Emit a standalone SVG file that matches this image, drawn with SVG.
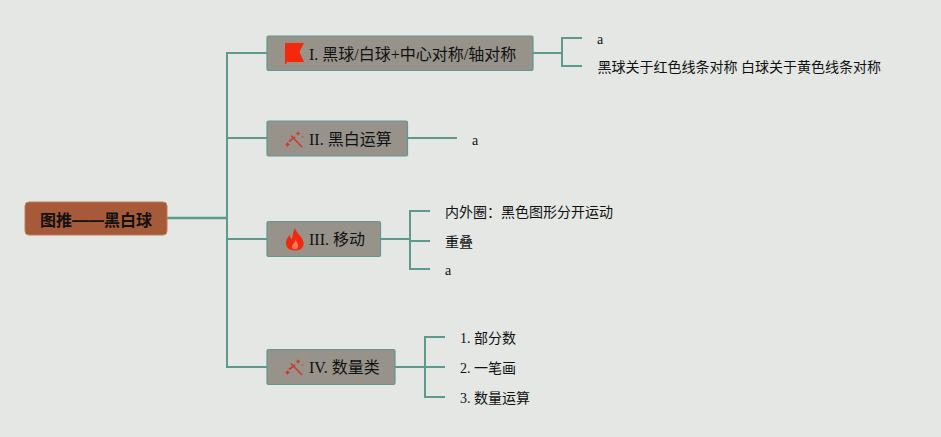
<svg xmlns="http://www.w3.org/2000/svg" width="941" height="437" viewBox="0 0 941 437">
<style>
text{font-family:"Liberation Serif","Noto Sans CJK SC",serif;fill:#111}
.t{font-size:16px}
.s{font-size:14px}
.n{fill:#97938a;stroke:#5f9a8e;stroke-width:1.200}
.c{fill:none;stroke:#5b9a8d;stroke-width:2}
.i{fill:#f3280c}
</style>
<defs>
<g id="wand"><path d="M5 5.500L16 17M9 7L3 11.500" stroke="#d0392e" stroke-width="1.600" fill="none"/><path d="M1.500 12l1 1.500 1.500 1-1.500 1-1 1.500-1-1.500-1.500-1 1.500-1z" fill="#d0392e"/><path d="M12 1l.8 1.700 1.700.8-1.700.8-.8 1.700-.8-1.700-1.700-.8 1.700-.8z" fill="#d0392e"/><circle cx="16.500" cy="7" r=".8" fill="#d0392e"/></g>
</defs>
<rect width="941" height="437" fill="#e4e7e4"/>
<g id="connectors">
<path class="c" style="stroke-width:2.500" d="M167 218H227"/>
<path class="c" d="M267 53H227V367H267M227 138H267M227 239H267"/>
<path class="c" d="M533 53H562M582 38H562V66H582"/>
<path class="c" d="M408 138H457"/>
<path class="c" d="M381 239H410M430 211H410V269H430M410 241H430"/>
<path class="c" d="M395 367H425M445 337H425V397H445M425 367H445"/>
</g>
<g id="root"><rect x="25" y="202" width="142" height="33" rx="4" fill="#a65a3a" stroke="#c07a5c" stroke-width="1"/><text x="40" y="226" style="font-family:'Liberation Sans','Noto Sans CJK SC',sans-serif;font-weight:700;font-size:16px">图推——黑白球</text></g>
<g id="node1"><rect class="n" x="267" y="36" width="266" height="34.500" rx="1.500"/><path class="i" d="M285 43H304L299.500 52 304 62H286.500V64H285z"/><text class="t" x="309" y="60">I. 黑球/白球+中心对称/轴对称</text></g>
<g id="node2"><rect class="n" x="267" y="121" width="140.500" height="35" rx="1.500"/><use href="#wand" x="286" y="130"/><text class="t" x="309" y="145">II. 黑白运算</text></g>
<g id="node3"><rect class="n" x="267" y="221.500" width="113.500" height="35" rx="1.500"/><path class="i" d="M295 228C296 233 302 236 303.500 242C304.500 248 300 250.500 295 250.500C289 250.500 285.500 247 286 242C286.500 239 288 237 289.500 235C290 237 291 239 292 239C293 235 293 231 295 228z"/><path d="M295.500 239C296 242 299 244 298 247C297 250 293 250 292 247.500C291.500 245.500 293 245 293.500 243.500C294.500 242.500 295.500 241 295.500 239z" fill="#f77a5c"/><text class="t" x="309" y="245">III. 移动</text></g>
<g id="node4"><rect class="n" x="267" y="349.500" width="128" height="35" rx="1.500"/><use href="#wand" x="286" y="358"/><text class="t" x="309" y="373">IV. 数量类</text></g>
<g id="leaf1a"><text class="s" x="597" y="44">a</text></g>
<g id="leaf1b"><text class="s" x="597.500" y="72">黑球关于红色线条对称 白球关于黄色线条对称</text></g>
<g id="leaf2a"><text class="s" x="472" y="145">a</text></g>
<g id="leaf3a"><text class="s" x="445" y="217">内外圈：黑色图形分开运动</text></g>
<g id="leaf3b"><text class="s" x="445" y="247">重叠</text></g>
<g id="leaf3c"><text class="s" x="445" y="275">a</text></g>
<g id="leaf4a"><text class="s" x="460" y="343">1. 部分数</text></g>
<g id="leaf4b"><text class="s" x="460" y="373">2. 一笔画</text></g>
<g id="leaf4c"><text class="s" x="460" y="403">3. 数量运算</text></g>
</svg>
